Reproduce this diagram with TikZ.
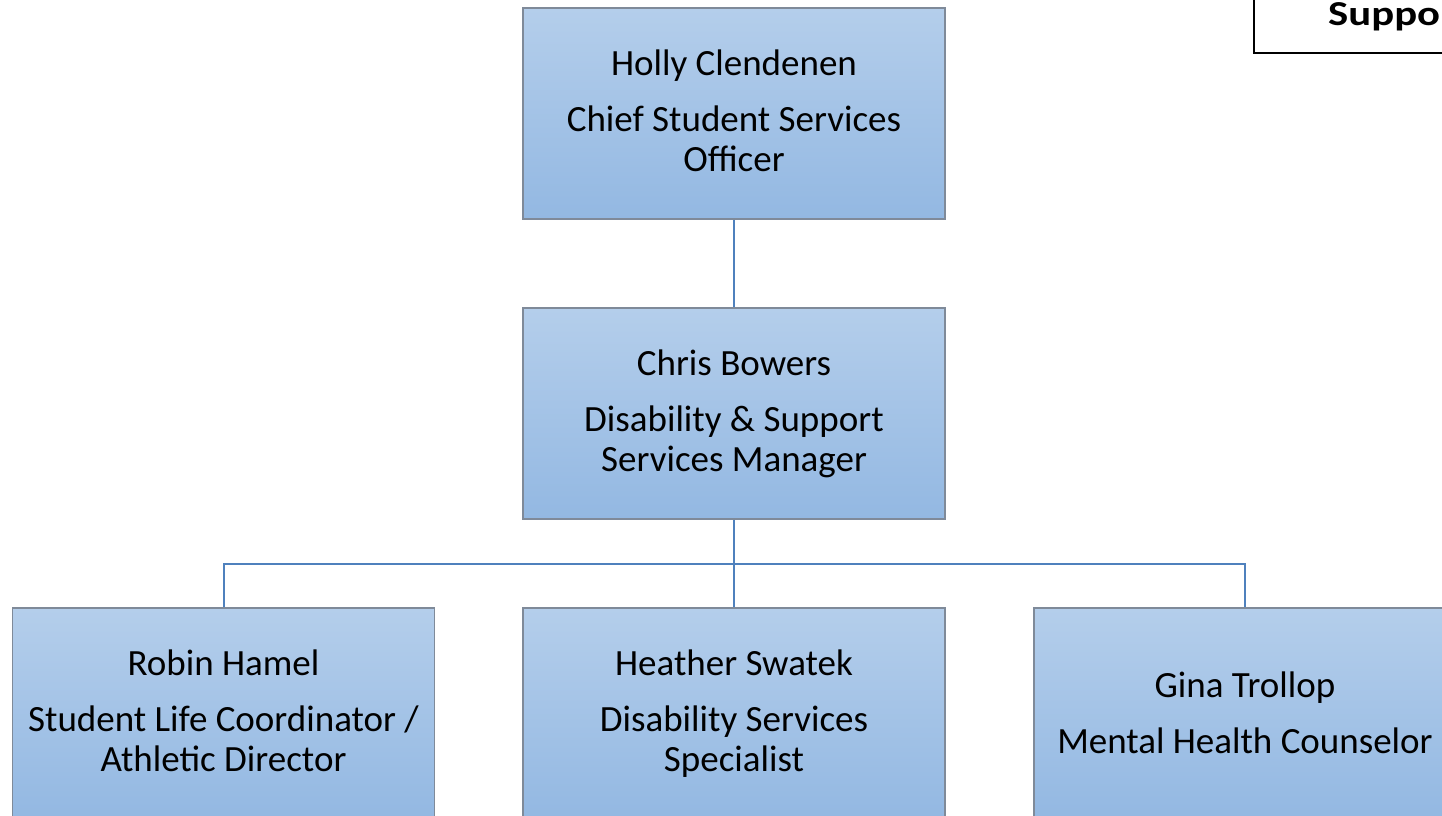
\documentclass[tikz,border=0pt]{standalone}
\usepackage{fontspec}
\setmainfont{Carlito}
\definecolor{boxtop}{HTML}{B4CEEB}
\definecolor{boxbot}{HTML}{93B8E2}
\definecolor{boxline}{HTML}{7F8A99}
\definecolor{linkblue}{HTML}{4F81BD}
\newcommand{\topstrut}[1]{\rule{0pt}{#1}}
\begin{document}
\begin{tikzpicture}[x=1pt,y=-1pt,
  orgbox/.style={draw=boxline, line width=1.2pt, top color=boxtop, bottom color=boxbot,
    minimum width=422pt, minimum height=211pt, inner sep=0pt, align=center,
    font=\fontsize{37}{40}\selectfont, text=black},
  link/.style={draw=linkblue, line width=2pt}]
\useasboundingbox (0,0) rectangle (1442,815);
\clip (0,0) rectangle (1442,815);
\fill[white] (0,0) rectangle (1442,815);
% legend box (cut off)
\draw[black, line width=1.5pt] (1254,-10) -- (1254,53) -- (1460,53);
\node[anchor=base west, font=\fontsize{35}{40}\selectfont\bfseries, inner sep=0pt] (legend) at (1328,25.5) {\scalebox{1.22}[1]{Suppo}};
% boxes
\node[orgbox] (holly) at (734,113.5) {\topstrut{32pt}Holly Clendenen\\[16.5pt]Chief Student Services\\Officer\strut};
\node[orgbox] (chris) at (734,413.5) {\topstrut{32pt}Chris Bowers\\[16.5pt]Disability \& Support\\Services Manager\strut};
\node[orgbox] (robin) at (223.5,713.5) {\topstrut{32pt}Robin Hamel\\[16.5pt]Student Life Coordinator /\\Athletic Director\strut};
\node[orgbox] (heather) at (734,713.5) {\topstrut{32pt}Heather Swatek\\[16.5pt]Disability Services\\Specialist\strut};
\node[orgbox] (gina) at (1245,713.5) {\topstrut{36pt}Gina Trollop\\[16.5pt]Mental Health Counselor\strut};
% connectors
\coordinate (bus) at (734,564);
\draw[link] (holly.south) -- (chris.north);
\draw[link] (chris.south) -- (heather.north);
\draw[link] (robin.north) |- (bus) -| (gina.north);
\end{tikzpicture}
\end{document}
